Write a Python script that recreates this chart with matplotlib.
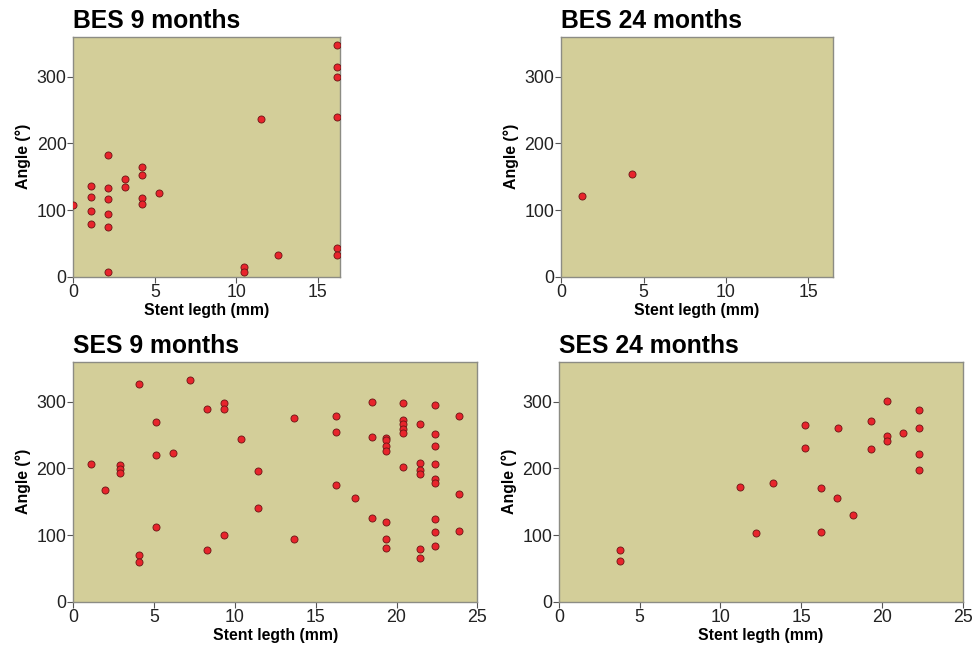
import matplotlib
matplotlib.use("Agg")
import matplotlib.pyplot as plt

plt.rcParams['font.family'] = ['Liberation Sans', 'DejaVu Sans']

# BES 9 months
bes9_x = [0, 1.05, 1.05, 1.05, 1.05, 2.1, 2.1, 2.1, 2.1, 2.1, 2.1, 3.15, 3.15,
          4.2, 4.2, 4.2, 4.2, 5.25, 10.45, 10.45, 11.5, 12.55,
          16.15, 16.15, 16.15, 16.15, 16.15, 16.15]
bes9_y = [108, 136, 120, 99, 79, 183, 133, 117, 94, 75, 7.5, 146, 134,
          165, 152, 118, 109, 125, 14, 7, 236, 32,
          348, 315, 300, 240, 43, 33]

# BES 24 months
bes24_x = [1.28, 4.29]
bes24_y = [121, 154]

# SES 9 months
ses9_x = [1.07, 1.96, 2.87, 2.87, 2.87, 4.08, 4.08, 4.08, 5.09, 5.09, 5.09,
          6.17, 7.22, 8.27, 8.27, 9.32, 9.32, 9.32, 10.38, 11.41, 11.41,
          13.65, 13.65, 16.23, 16.23, 16.23, 17.43,
          18.48, 18.48, 18.48,
          19.37, 19.37, 19.37, 19.37, 19.37, 19.37, 19.37,
          20.42, 20.42, 20.42, 20.42, 20.42, 20.42,
          21.45, 21.45, 21.45, 21.45, 21.45, 21.45,
          22.38, 22.38, 22.38, 22.38, 22.38, 22.38, 22.38, 22.38, 22.38,
          23.87, 23.87, 23.87]
ses9_y = [206.5, 167.5, 204.5, 198.5, 193, 327, 70.5, 59, 270, 220, 112.5,
          222.5, 333, 289.5, 78, 297.5, 289.5, 100, 244, 196, 140,
          276, 93.5, 278, 254.5, 174.5, 155,
          299.5, 247.5, 125.5,
          246, 243, 234, 226, 119.5, 93.5, 81,
          298.5, 272, 266, 259.5, 253.5, 201.5,
          267, 207.5, 197.5, 192, 79.5, 65.5,
          295.5, 251, 233.5, 206, 183.5, 177.5, 124.5, 104.5, 83,
          279, 161.5, 106.5]

# SES 24 months
ses24_x = [3.78, 3.78, 11.23, 12.22, 13.23, 15.24, 15.24, 16.23, 16.23,
           17.28, 17.2, 18.23, 19.3, 19.3, 20.29, 20.29, 20.29, 21.3,
           22.32, 22.32, 22.32, 22.32]
ses24_y = [77, 61, 171.5, 102.5, 177.5, 265.5, 230, 170.5, 104,
           260.5, 156, 130.5, 270.5, 228.5, 300.5, 248.5, 240.5, 252.5,
           287, 260.5, 222, 197]

titles = ["BES 9 months", "BES 24 months", "SES 9 months", "SES 24 months"]
xticks_small = [0, 5, 10, 15]
xticks_large = [0, 5, 10, 15, 20, 25]
yticks = [0, 100, 200, 300]

BG = '#d3ce99'
SPINE = '#8c8c84'
DOT = '#e8242c'
EDGE = '#6a1515'

fig = plt.figure(figsize=(9.72, 6.46), dpi=100)
fig.patch.set_facecolor('white')

h = 0.3715
positions = [
    (0.0756, 0.5717, 0.2742, h),
    (0.5772, 0.5717, 0.2800, h),
    (0.0754, 0.0686, 0.4157, h),
    (0.5751, 0.0686, 0.4153, h),
]
data = [(bes9_x, bes9_y, 16.35, xticks_small),
        (bes24_x, bes24_y, 16.5, xticks_small),
        (ses9_x, ses9_y, 25, xticks_large),
        (ses24_x, ses24_y, 25, xticks_large)]

for pos, (xs, ys, xmax, xt), title in zip(positions, data, titles):
    ax = fig.add_axes(pos)
    ax.set_facecolor(BG)
    ax.scatter(xs, ys, s=26, color=DOT, edgecolor=EDGE, linewidth=0.6, zorder=3)
    ax.set_xlim(0, xmax)
    ax.set_ylim(0, 360)
    ax.set_xticks(xt)
    ax.set_yticks(yticks)
    for sp in ax.spines.values():
        sp.set_color(SPINE)
        sp.set_linewidth(1.0)
    ax.tick_params(axis='both', direction='out', length=4, width=0.8,
                   color='#555555', labelsize=12.8, labelcolor='#222222', pad=1)
    ax.set_xlabel("Stent legth (mm)", fontsize=11.4, fontweight='bold', labelpad=2)
    ax.set_ylabel("Angle (°)", fontsize=11.4, fontweight='bold', labelpad=4)
    ax.set_title(title, loc='left', fontsize=17.8, fontweight='bold', pad=6)

fig.savefig("out.png", dpi=100)
